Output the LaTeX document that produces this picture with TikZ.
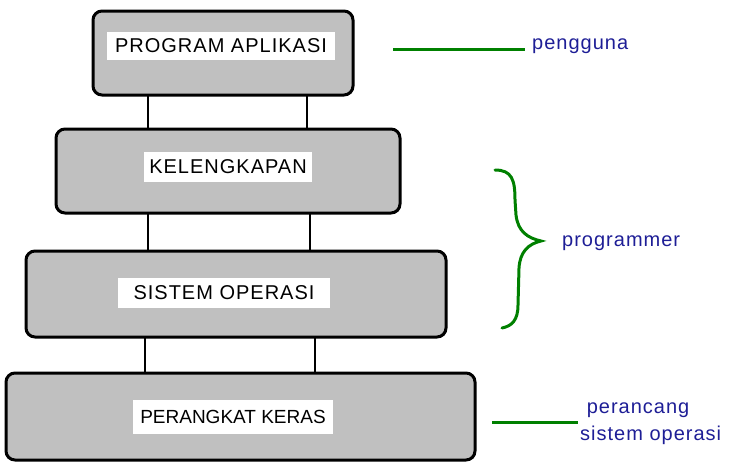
\documentclass[tikz,border=0pt]{standalone}
\usepackage{fontspec}
\setmainfont{Liberation Sans}
\newfontfamily\spaced[LetterSpace=5]{Liberation Sans}
\newfontfamily\lblfont[LetterSpace=5]{Liberation Sans}
\usetikzlibrary{decorations.pathreplacing}
\definecolor{boxgray}{RGB}{192,192,192}
\definecolor{lblue}{RGB}{30,30,150}
\definecolor{lgreen}{RGB}{0,128,0}
\begin{document}
\begin{tikzpicture}[x=1pt,y=-1pt,
  layer/.style={draw=black,line width=3pt,fill=boxgray,rounded corners=9pt},
  boxtext/.style={fill=white,inner sep=2pt,font=\spaced\fontsize{20}{22}\selectfont,text=black},
  link/.style={draw=black,line width=2.5pt},
  gline/.style={draw=lgreen,line width=3pt},
  lbl/.style={text=lblue,font=\lblfont\fontsize{20}{27}\selectfont,anchor=west,inner sep=0pt}]
\useasboundingbox (0,0) rectangle (738,472);
% boxes
\draw[layer] (93,11) rectangle (353,95);
\draw[layer] (56,129) rectangle (400,213);
\draw[layer] (26,251) rectangle (446,337);
\draw[layer] (6,373) rectangle (475,460);
\node[boxtext,minimum width=228pt,minimum height=28pt] (pa) at (221,46) {PROGRAM\ APLIKASI};
\node[boxtext,minimum width=168pt,minimum height=30pt] (kl) at (228,167) {KELENGKAPAN};
\node[boxtext,minimum width=212pt,minimum height=30pt] (so) at (224,293) {SISTEM\ OPERASI};
\node[boxtext,font=\fontsize{19}{22}\selectfont,minimum width=200pt,minimum height=34pt] (pk) at (233,417) {PERANGKAT KERAS};
% connectors
\coordinate (a1) at (148,96); \coordinate (a2) at (148,128);
\coordinate (b1) at (307,96); \coordinate (b2) at (307,128);
\coordinate (c1) at (148,214); \coordinate (c2) at (148,250);
\coordinate (d1) at (310,214); \coordinate (d2) at (310,250);
\coordinate (e1) at (145,338); \coordinate (e2) at (145,372);
\coordinate (f1) at (315,338); \coordinate (f2) at (315,372);
\draw[link] (a1) -- (a2); \draw[link] (b1) -- (b2);
\draw[link] (c1) -- (c2); \draw[link] (d1) -- (d2);
\draw[link] (e1) -- (e2); \draw[link] (f1) -- (f2);
% labels
\coordinate (g1) at (393,49); \coordinate (g2) at (525,49);
\draw[gline] (g1) -- (g2);
\node[lbl] (pg) at (532,46) {pengguna};
\coordinate (br1) at (495,170); \coordinate (br2) at (502,328);
\draw[draw=lgreen,line width=3pt,line cap=round]
  (br1) .. controls (512,170) and (515,180) .. (515,200)
  -- (516,215) .. controls (518,232) and (528,238) .. (541,241)
  .. controls (528,244) and (520,252) .. (519,268)
  -- (518,305) .. controls (518,320) and (512,326) .. (br2);
\node[lbl] (pr) at (562,243) {programmer};
\coordinate (h1) at (492,422); \coordinate (h2) at (578,422);
\draw[gline] (h1) -- (h2);
\node[lbl,align=left,anchor=north west] (pc) at (580,403) {\ perancang\\sistem operasi};
\end{tikzpicture}
\end{document}
